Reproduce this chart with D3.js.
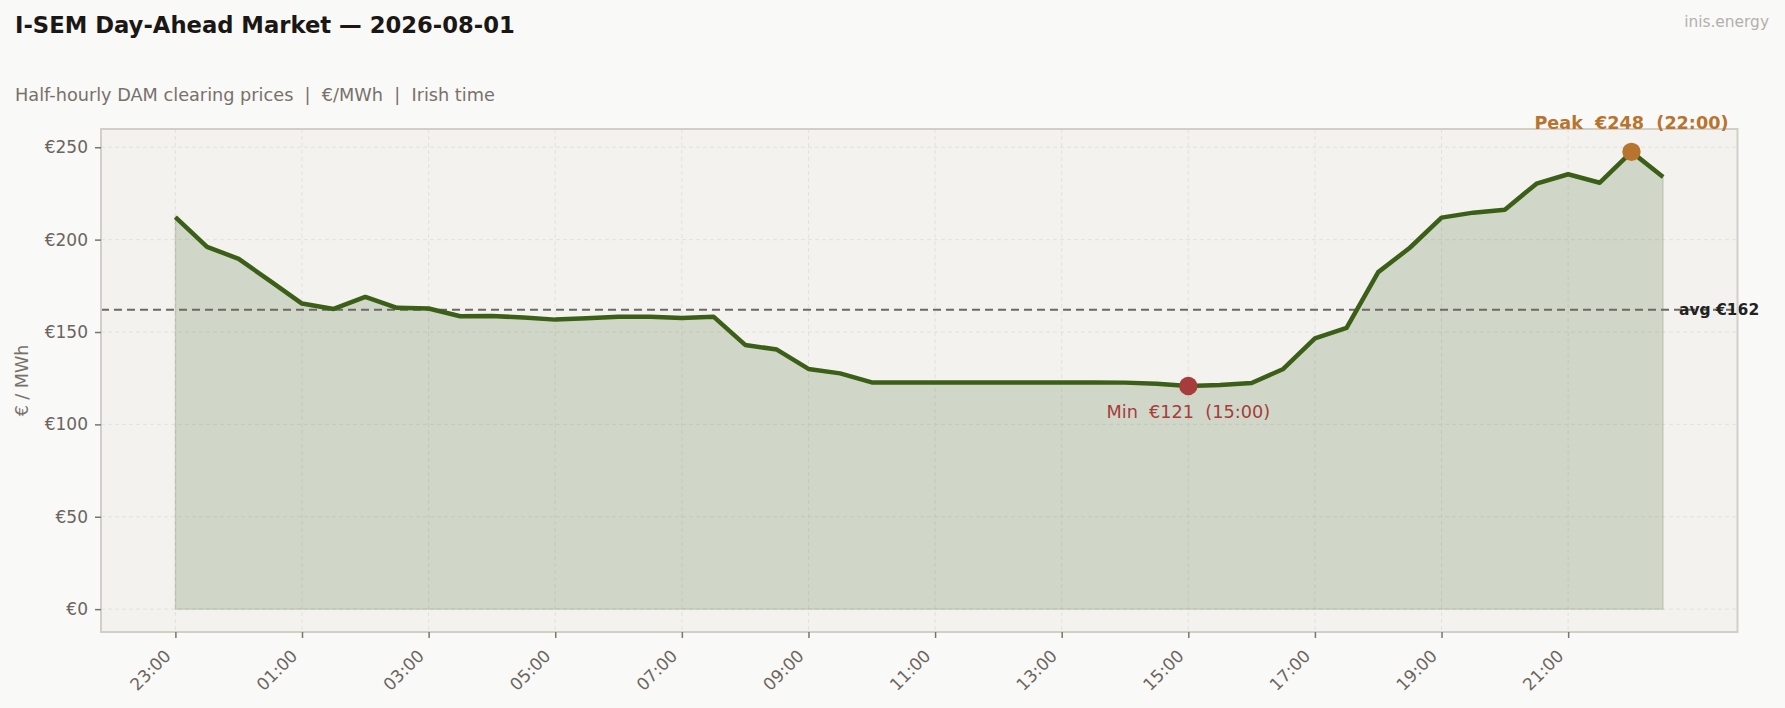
<script src="https://d3js.org/d3.v7.min.js"></script>
<style>
    body { background: #f9f9f7; margin: 0; font-family: "DejaVu Sans", sans-serif; }
    svg { display: block; }
    text { white-space: pre; }
</style>

<svg width="1785" height="708"></svg>

<script>
    const times = ["23:00", "23:30", "00:00", "00:30", "01:00", "01:30", "02:00", "02:30",
        "03:00", "03:30", "04:00", "04:30", "05:00", "05:30", "06:00", "06:30",
        "07:00", "07:30", "08:00", "08:30", "09:00", "09:30", "10:00", "10:30",
        "11:00", "11:30", "12:00", "12:30", "13:00", "13:30", "14:00", "14:30",
        "15:00", "15:30", "16:00", "16:30", "17:00", "17:30", "18:00", "18:30",
        "19:00", "19:30", "20:00", "20:30", "21:00", "21:30", "22:00", "22:30"];
    const prices = [212.2, 196.1, 189.6, 177.5, 165.4, 162.5, 169.0, 163.1,
        162.7, 158.5, 158.7, 157.8, 156.7, 157.4, 158.3, 158.3,
        157.6, 158.3, 143.0, 140.5, 130.0, 127.6, 122.7, 122.7,
        122.7, 122.7, 122.7, 122.7, 122.7, 122.7, 122.6, 122.0,
        120.8, 121.3, 122.4, 130.0, 146.6, 152.2, 182.4, 195.6,
        211.9, 214.6, 216.2, 230.3, 235.4, 230.8, 247.5, 233.9];
    const yTicks = [0, 50, 100, 150, 200, 250];
    const xTickIdx = d3.range(0, times.length, 4); // every 2 hours

    const W = 1785, H = 708;
    const m = { left: 101, right: 47.5, top: 129, bottom: 76 };
    const svg = d3.select("svg");

    const n = prices.length;
    const x = d3.scaleLinear().domain([-0.05 * (n - 1), (n - 1) * 1.05]).range([m.left, W - m.right]);
    const maxV = d3.max(prices);
    const y = d3.scaleLinear().domain([-0.05 * maxV, maxV * 1.05]).range([H - m.bottom, m.top]);

    const avg = d3.mean(prices);
    const iMin = d3.minIndex(prices), iMax = d3.maxIndex(prices);

    // titles
    svg.append("text").attr("x", 15).attr("y", 33)
        .attr("font-size", 22.7).attr("font-weight", "bold").attr("fill", "#1a1714")
        .text("I-SEM Day-Ahead Market — 2026-08-01");
    svg.append("text").attr("x", 15).attr("y", 101)
        .attr("font-size", 17.7).attr("fill", "#77716b")
        .text("Half-hourly DAM clearing prices  |  €/MWh  |  Irish time");
    svg.append("text").attr("x", 1769).attr("y", 27).attr("text-anchor", "end")
        .attr("font-size", 15.4).attr("fill", "#b3b0ab")
        .text("inis.energy");

    // plot background
    svg.append("rect").attr("x", m.left).attr("y", m.top)
        .attr("width", W - m.left - m.right).attr("height", H - m.top - m.bottom)
        .attr("fill", "#f3f2ef");

    // grid
    const grid = svg.append("g").attr("stroke", "#e3e1dc").attr("stroke-width", 1).attr("stroke-dasharray", "4,3");
    grid.selectAll(".gy").data(yTicks).enter().append("line")
        .attr("x1", m.left).attr("x2", W - m.right).attr("y1", d => y(d)).attr("y2", d => y(d));
    grid.selectAll(".gx").data(xTickIdx).enter().append("line")
        .attr("y1", m.top).attr("y2", H - m.bottom).attr("x1", d => x(d)).attr("x2", d => x(d));

    // area + line
    svg.append("path").datum(prices)
        .attr("fill", "#3a6014").attr("fill-opacity", 0.18)
        .attr("stroke", "#3a6014").attr("stroke-opacity", 0.15).attr("stroke-width", 1.5)
        .attr("d", d3.area().x((d, i) => x(i)).y0(y(0)).y1(d => y(d)));

    // average line
    svg.append("line").attr("x1", m.left).attr("x2", W - m.right)
        .attr("y1", y(avg)).attr("y2", y(avg))
        .attr("stroke", "#6b6965").attr("stroke-width", 2).attr("stroke-dasharray", "8,5");

    svg.append("path").datum(prices)
        .attr("fill", "none").attr("stroke", "#3b5f17").attr("stroke-width", 4.5)
        .attr("stroke-linejoin", "round")
        .attr("d", d3.line().x((d, i) => x(i)).y(d => y(d)));

    svg.append("text").attr("x", 1679).attr("y", y(avg)).attr("dy", "0.35em")
        .attr("font-size", 15.5).attr("font-weight", "bold").attr("fill", "#222")
        .text(`avg €${Math.round(avg)}`);

    // border
    svg.append("rect").attr("x", m.left).attr("y", m.top)
        .attr("width", W - m.left - m.right).attr("height", H - m.top - m.bottom)
        .attr("fill", "none").attr("stroke", "#d2cfc7").attr("stroke-width", 2);

    // axes
    const yAxis = svg.append("g").attr("transform", `translate(${m.left},0)`)
        .call(d3.axisLeft(y).tickValues(yTicks).tickSize(6).tickPadding(7).tickFormat(d => "€" + d));
    const xAxis = svg.append("g").attr("transform", `translate(0,${H - m.bottom})`)
        .call(d3.axisBottom(x).tickValues(xTickIdx).tickSize(6).tickFormat(i => times[i]));
    [yAxis, xAxis].forEach(a => {
        a.select(".domain").remove();
        a.selectAll(".tick line").attr("stroke", "#7a7570").attr("stroke-width", 1.5);
        a.selectAll("text").attr("fill", "#6b6560").attr("font-size", 17)
            .attr("font-family", "DejaVu Sans");
    });
    xAxis.selectAll("text")
        .attr("text-anchor", "end").attr("dy", 0).attr("y", 0)
        .attr("transform", "translate(-4,25) rotate(-45)");

    svg.append("text")
        .attr("transform", `translate(28,${(m.top + H - m.bottom) / 2}) rotate(-90)`)
        .attr("text-anchor", "middle").attr("font-size", 17.5).attr("fill", "#77716b")
        .text("€ / MWh");

    // min / peak markers
    svg.append("circle").attr("cx", x(iMin)).attr("cy", y(prices[iMin])).attr("r", 9.2).attr("fill", "#a63c3c");
    svg.append("text").attr("x", x(iMin)).attr("y", y(prices[iMin]) + 32).attr("text-anchor", "middle")
        .attr("font-size", 17.7).attr("fill", "#a63c3c")
        .text(`Min  €${Math.round(prices[iMin])}  (${times[iMin]})`);

    svg.append("circle").attr("cx", x(iMax)).attr("cy", y(prices[iMax])).attr("r", 9.2).attr("fill", "#b8742e");
    svg.append("text").attr("x", x(iMax)).attr("y", y(prices[iMax]) - 23).attr("text-anchor", "middle")
        .attr("font-size", 17.6).attr("font-weight", "bold").attr("fill", "#b8742e")
        .text(`Peak  €${Math.round(prices[iMax])}  (${times[iMax]})`);
</script>
